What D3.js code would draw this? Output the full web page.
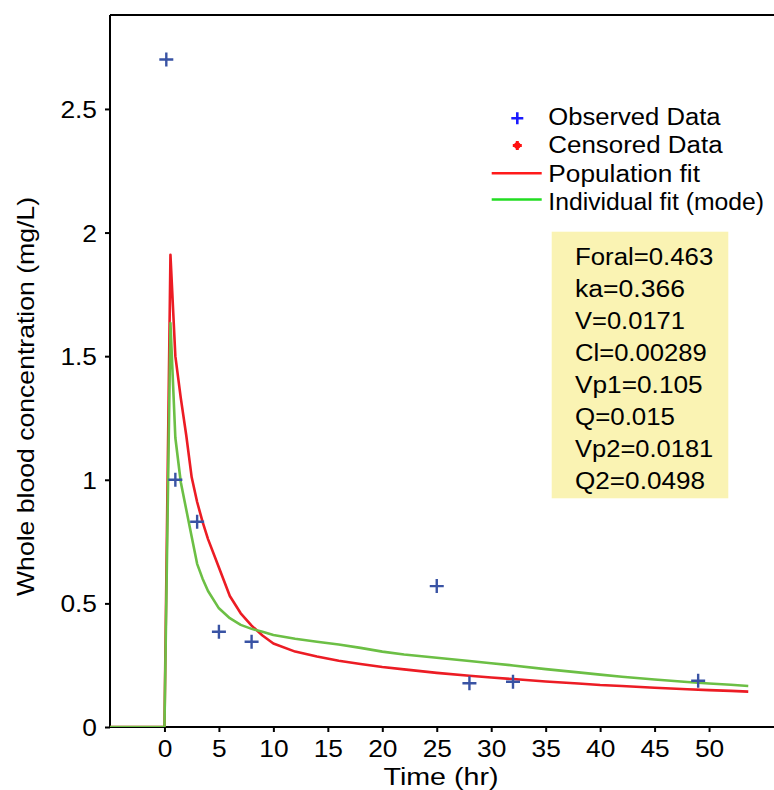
<!DOCTYPE html>
<html>
<head>
<meta charset="utf-8">
<script src="https://cdn.jsdelivr.net/npm/d3@7"></script>
<style>
  html, body { margin: 0; padding: 0; background: #fff; }
  svg { display: block; font-family: "Liberation Sans", Arial, Helvetica, sans-serif; }
</style>
</head>
<body>
<svg id="chart" width="774" height="790"></svg>
<script>
// ---- data ----
const obsTime = [0.17, 1, 3, 5, 8, 25, 28, 32, 49];
const obsConc = [2.70, 1.00, 0.83, 0.385, 0.345, 0.57, 0.177, 0.183, 0.187];

const fitTime = [-5, 0, 0.55, 1, 1.5, 2, 2.5, 3, 3.5, 4, 5, 6, 7, 8, 9, 10, 12, 14, 16, 18, 20, 22, 25, 28, 30, 32, 35, 38, 40, 42, 45, 48, 50, 52, 53.6];
const popFit = [0, 0, 1.91, 1.50, 1.33, 1.18, 1.01, 0.91, 0.83, 0.76, 0.645, 0.53, 0.46, 0.41, 0.37, 0.338, 0.305, 0.285, 0.268, 0.255, 0.243, 0.233, 0.219, 0.207, 0.200, 0.194, 0.184, 0.176, 0.170, 0.166, 0.159, 0.153, 0.149, 0.146, 0.143];
const indFit = [0, 0, 1.634, 1.17, 0.99, 0.88, 0.77, 0.66, 0.60, 0.55, 0.48, 0.44, 0.413, 0.397, 0.385, 0.372, 0.357, 0.345, 0.334, 0.32, 0.305, 0.293, 0.28, 0.267, 0.258, 0.249, 0.234, 0.221, 0.212, 0.203, 0.192, 0.182, 0.176, 0.171, 0.166];

const xTicks = [0, 5, 10, 15, 20, 25, 30, 35, 40, 45, 50];
const yTicks = [0, 0.5, 1, 1.5, 2, 2.5];
const yTickLabels = ["0", "0.5", "1", "1.5", "2", "2.5"];

const legendLabels = ["Observed Data", "Censored Data", "Population fit", "Individual fit (mode)"];
const paramLines = ["Foral=0.463", "ka=0.366", "V=0.0171", "Cl=0.00289", "Vp1=0.105", "Q=0.015", "Vp2=0.0181", "Q2=0.0498"];

const xTitle = "Time (hr)";
const yTitle = "Whole blood concentration (mg/L)";

// ---- layout ----
const svg = d3.select("#chart");
const L = 110, T = 15, B = 727, R = 774.4;
const x = d3.scaleLinear().domain([-5, 56]).range([L, R]);
const y = d3.scaleLinear().domain([0, 2.88]).range([B, T]);

const FS = 23.5;
function stretch(sel, k) {
  sel.each(function() {
    const len = this.getComputedTextLength();
    d3.select(this).attr("textLength", len * k).attr("lengthAdjust", "spacingAndGlyphs");
  });
}

svg.append("defs").append("clipPath").attr("id", "plotclip")
  .append("rect").attr("x", L).attr("y", T).attr("width", R - L).attr("height", B - T);

// top border
svg.append("line").attr("x1", L).attr("x2", 774).attr("y1", T).attr("y2", T)
  .attr("stroke", "#000").attr("stroke-width", 2);

// x axis
const xAxis = svg.append("g").attr("transform", `translate(0,${B})`)
  .call(d3.axisBottom(x).tickValues(xTicks).tickSize(5).tickSizeOuter(0).tickFormat(d3.format("d")));
xAxis.select(".domain").attr("stroke-width", 2).attr("d", `M${L},0H774`);
xAxis.selectAll(".tick line").attr("stroke-width", 2);
xAxis.selectAll(".tick text").attr("y", 30).attr("dy", 0)
  .attr("font-size", FS).attr("font-family", "Liberation Sans, Arial, sans-serif").attr("fill", "#000");
stretch(xAxis.selectAll(".tick text"), 1.12);

// y axis
const yAxis = svg.append("g").attr("transform", `translate(${L},0)`)
  .call(d3.axisLeft(y).tickValues(yTicks).tickSize(5).tickSizeOuter(0)
    .tickFormat((d, i) => yTickLabels[i]));
yAxis.select(".domain").attr("stroke-width", 2).attr("d", `M0,${B}V${T}`);
yAxis.selectAll(".tick line").attr("stroke-width", 2);
yAxis.selectAll(".tick text").attr("x", -13).attr("dy", "0.36em")
  .attr("font-size", FS).attr("font-family", "Liberation Sans, Arial, sans-serif").attr("fill", "#000");
stretch(yAxis.selectAll(".tick text"), 1.12);

// curves
const plot = svg.append("g").attr("clip-path", "url(#plotclip)");
const lineGen = vals => d3.line().x((d, i) => x(fitTime[i])).y(d => y(d))(vals);
plot.append("path").attr("d", lineGen(popFit)).attr("fill", "none")
  .attr("stroke", "#ec1c24").attr("stroke-width", 2.6).attr("stroke-linejoin", "round");
plot.append("path").attr("d", lineGen(indFit)).attr("fill", "none")
  .attr("stroke", "#6cbf45").attr("stroke-width", 2.6).attr("stroke-linejoin", "round");

// observed markers
const plusPath = s => `M${-s},0H${s}M0,${-s}V${s}`;
plot.selectAll(".obs").data(obsTime).join("path").attr("class", "obs")
  .attr("transform", (d, i) => `translate(${x(d)},${y(obsConc[i])})`)
  .attr("d", plusPath(7)).attr("stroke", "#3953a4").attr("stroke-width", 2.4).attr("fill", "none");

// text box with parameters
svg.append("rect").attr("x", 551.7).attr("y", 231.7).attr("width", 176.6).attr("height", 266.6)
  .attr("fill", "#faf3b3");
const paramWidths = [138.3, 110, 110, 131.7, 127.7, 100, 138.3, 130];
svg.selectAll(".param").data(paramLines).join("text").attr("class", "param")
  .attr("x", 575).attr("y", (d, i) => 265 + i * 32.05)
  .attr("font-size", FS).attr("fill", "#000")
  .attr("textLength", (d, i) => paramWidths[i]).attr("lengthAdjust", "spacingAndGlyphs")
  .text(d => d);

// legend
const lg = svg.append("g");
const legendY = [125, 153.3, 181.7, 210];
const legendW = [172.3, 174.3, 151.7, 215.7];
lg.append("path").attr("transform", "translate(517.3,118.3)").attr("d", plusPath(6))
  .attr("stroke", "#1a1aff").attr("stroke-width", 2.6);
lg.append("path").attr("transform", "translate(517.3,145.5)")
  .attr("d", plusPath(4.5)).attr("stroke", "#ff1010").attr("stroke-width", 3);
lg.append("circle").attr("cx", 517.3).attr("cy", 145.5).attr("r", 3.2).attr("fill", "#ff1010");
lg.append("line").attr("x1", 491.7).attr("x2", 541.7).attr("y1", 173.3).attr("y2", 173.3)
  .attr("stroke", "#ff1a1a").attr("stroke-width", 2.6);
lg.append("line").attr("x1", 491.7).attr("x2", 541.7).attr("y1", 199.5).attr("y2", 199.5)
  .attr("stroke", "#22dd22").attr("stroke-width", 2.6);
lg.selectAll(".lt").data(legendLabels).join("text").attr("class", "lt")
  .attr("x", 548.3).attr("y", (d, i) => legendY[i])
  .attr("font-size", FS).attr("fill", "#000")
  .attr("textLength", (d, i) => legendW[i]).attr("lengthAdjust", "spacingAndGlyphs")
  .text(d => d);

// axis titles
svg.append("text").attr("x", 441).attr("y", 785).attr("text-anchor", "middle")
  .attr("font-size", FS).attr("fill", "#000")
  .attr("textLength", 115).attr("lengthAdjust", "spacingAndGlyphs").text(xTitle);
svg.append("text").attr("transform", "translate(34,396.5) rotate(-90)").attr("text-anchor", "middle")
  .attr("font-size", 24).attr("fill", "#000")
  .attr("textLength", 399).attr("lengthAdjust", "spacingAndGlyphs").text(yTitle);
</script>
</body>
</html>
